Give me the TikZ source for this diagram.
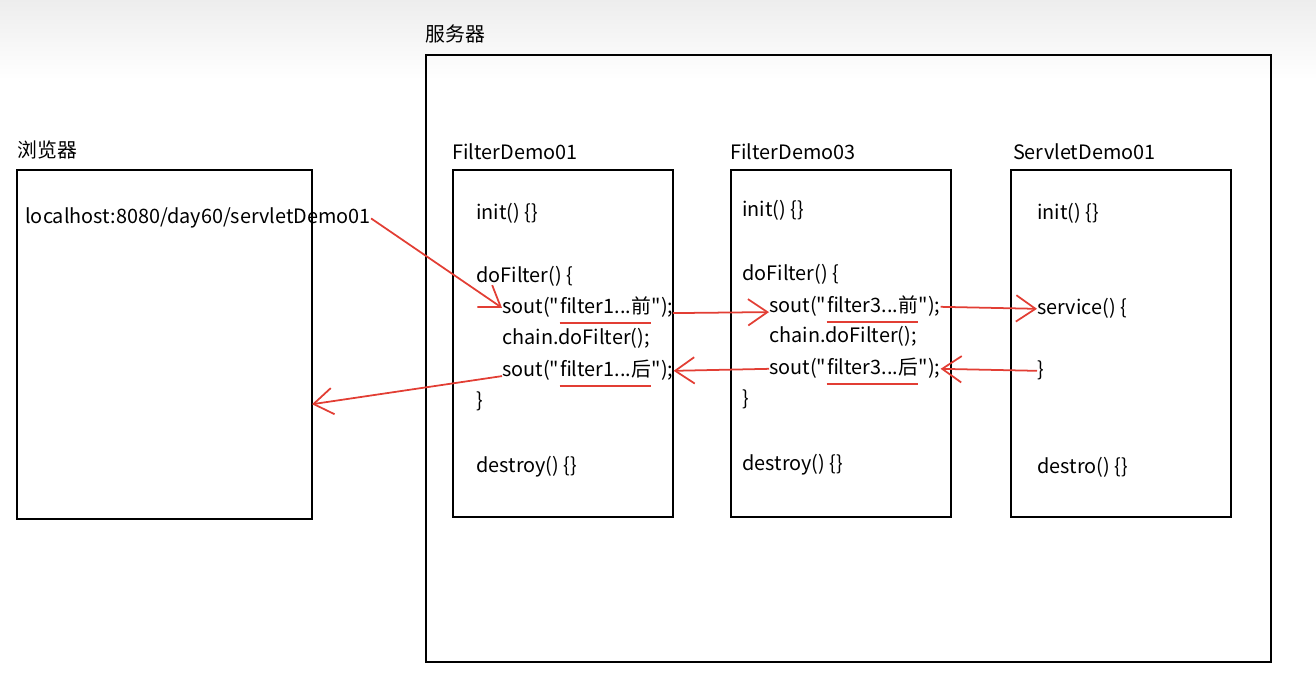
\documentclass[tikz,border=0pt]{standalone}
\usepackage{fontspec}
\setmainfont{Noto Sans CJK SC}[Ligatures=TeXOff]
\usetikzlibrary{arrows.meta,positioning}
\definecolor{pen}{RGB}{226,62,52}

\begin{document}
\begin{tikzpicture}[x=0.02cm,y=-0.02cm,
    box/.style={draw,line width=1pt,inner sep=0pt,outer sep=0pt},
    unit/.style={box,minimum width=4.4cm,minimum height=6.94cm},
    boxtitle/.style={inner sep=0pt,font=\fontsize{11.3}{13}\selectfont},
    code/.style={anchor=base west,inner sep=0pt,font=\fontsize{11.3}{13}\selectfont},
    flow/.style={draw=pen,line width=1pt,-{Straight Barb[length=11pt,width=15pt]}},
    underl/.style={draw=pen,line width=1pt}]
   \useasboundingbox (0,0) rectangle (1316,682);
   \shade[top color=black!7,bottom color=white] (0,0) rectangle (1316,80);

   % boxes
   \node[box,minimum width=5.9cm,minimum height=6.98cm] (browser) at (164.5,344.5) {};
   \node[box,minimum width=16.9cm,minimum height=12.14cm] (server) at (848.5,358.5) {};
   \node[unit] (fd1) at (563,343.5) {};
   \node[unit] (fd3) [right=1.16cm of fd1] {};
   \node[unit] (sd1) [right=1.2cm of fd3] {};

   \node[boxtitle] [above right=6pt and 0pt of browser.north west] {浏览器};
   \node[boxtitle] [above right=6.5pt and -0.5pt of server.north west] {服务器};
   \node[boxtitle] [above right=5.5pt and -0.5pt of fd1.north west] {FilterDemo01};
   \node[boxtitle] [above right=5.5pt and -0.5pt of fd3.north west] {FilterDemo03};
   \node[boxtitle] [above right=5.5pt and 1pt of sd1.north west] {ServletDemo01};

   \node[code] (url) at (25,224) {localhost:8080/day60/servletDemo01};

   % FilterDemo01
   \node[code] (f1init) at (476,220) {init() \{\}};
   \node[code] (f1do) at (476,283) {doFilter() \{};
   \node[code] (s1a) at (502,314) {sout("};
   \node[code] (s1b) [base right=0pt of s1a] {filter1...前};
   \node[code] (s1c) [base right=0pt of s1b] {");};
   \node[code] (f1chain) at (502,345) {chain.doFilter();};
   \node[code] (t1a) at (502,377) {sout("};
   \node[code] (t1b) [base right=0pt of t1a] {filter1...后};
   \node[code] (t1c) [base right=0pt of t1b] {");};
   \node[code] (f1end) at (476,407) {\}};
   \node[code] (f1destroy) at (476,472) {destroy() \{\}};

   % FilterDemo03
   \node[code] (f3init) at (742,217) {init() \{\}};
   \node[code] (f3do) at (742,281) {doFilter() \{};
   \node[code] (s3a) at (769,313) {sout("};
   \node[code] (s3b) [base right=0pt of s3a] {filter3...前};
   \node[code] (s3c) [base right=0pt of s3b] {");};
   \node[code] (f3chain) at (769,343) {chain.doFilter();};
   \node[code] (t3a) at (769,375) {sout("};
   \node[code] (t3b) [base right=0pt of t3a] {filter3...后};
   \node[code] (t3c) [base right=0pt of t3b] {");};
   \node[code] (f3end) at (742,405) {\}};
   \node[code] (f3destroy) at (742,470) {destroy() \{\}};

   % ServletDemo01
   \node[code] (sinit) at (1037,220) {init() \{\}};
   \node[code] (svc) at (1037,315) {service() \{};
   \node[code] (svcend) at (1037,377) {\}};
   \node[code] (sdestro) at (1037,473) {destro() \{\}};

   \coordinate (back) at ([yshift=-34pt]browser.east);

   \draw[underl] ([yshift=-5pt]s1b.base west) -- ([yshift=-5pt]s1b.base east);
   \draw[underl] ([yshift=-5pt]t1b.base west) -- ([yshift=-5pt]t1b.base east);
   \draw[underl] ([yshift=-5pt]s3b.base west) -- ([yshift=-5pt]s3b.base east);
   \draw[underl] ([yshift=-5pt]t3b.base west) -- ([yshift=-5pt]t3b.base east);

   \draw[flow] (url.east) -- (s1a.west);
   \draw[flow] ([yshift=-3pt]s1c.east -| fd1.east) -- ([yshift=-3pt]s3a.west);
   \draw[flow] (s3c.east) -- (svc.west);
   \draw[flow] (svcend.west) -- (t3c.east);
   \draw[flow] (t3a.west) -- (t1c.east);
   \draw[flow] ([yshift=-3pt]t1a.west) -- (back);
\end{tikzpicture}
\end{document}
